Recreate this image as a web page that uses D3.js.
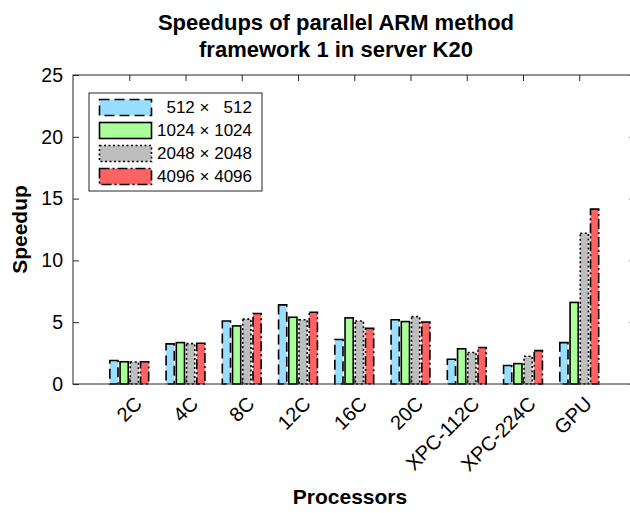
<!DOCTYPE html>
<html>
<head>
<meta charset="utf-8">
<script src="https://cdn.jsdelivr.net/npm/d3@7"></script>
<style>
  html, body { margin: 0; padding: 0; background: #fff; }
  svg { display: block; font-family: "Liberation Sans", Arial, Helvetica, sans-serif; }
</style>
</head>
<body>
<svg id="chart" width="630" height="513"></svg>
<script>
// ---- data ----
const categories = ["2C", "4C", "8C", "12C", "16C", "20C", "XPC-112C", "XPC-224C", "GPU"];
const seriesNames = ["512 \u00d7   512", "1024 \u00d7 1024", "2048 \u00d7 2048", "4096 \u00d7 4096"];
const s512  = [1.9, 3.25, 5.1, 6.4, 3.6, 5.2, 2.0, 1.5, 3.35];
const s1024 = [1.8, 3.35, 4.7, 5.4, 5.35, 5.05, 2.85, 1.65, 6.6];
const s2048 = [1.78, 3.27, 5.25, 5.2, 5.1, 5.45, 2.55, 2.25, 12.2];
const s4096 = [1.8, 3.3, 5.7, 5.8, 4.5, 5.02, 2.95, 2.7, 14.15];
const yTicks = [0, 5, 10, 15, 20, 25];
const titleLines = ["Speedups of parallel ARM method", "framework 1 in server K20"];
const xLabel = "Processors";
const yLabel = "Speedup";

// ---- styles ----
const fills = ["#99DDFF", "#AAFF99", "#BEBEBE", "#FF6262"];
const dashes = ["10,5", null, "2,2.5", "10,3,2,3"];
const series = [s512, s1024, s2048, s4096];

const svg = d3.select("#chart");
const pL = 73, pR = 635.5, pT = 75, pB = 384;

const x = d3.scaleLinear().domain([0, categories.length + 1]).range([pL, pR]);
const y = d3.scaleLinear().domain([0, 25]).range([pB, pT]);
const groupW = (x(1) - x(0)) * Math.min(0.8, series.length / (series.length + 1.5));
const inner = d3.scaleBand().domain(d3.range(series.length)).range([-groupW / 2, groupW / 2]);
const barW = inner.bandwidth() * 0.8;

const axisColor = "#262626";

// bars
series.forEach((vals, si) => {
  svg.append("g").selectAll("rect").data(vals).join("rect")
    .attr("x", (d, i) => x(i + 1) + inner(si) + (inner.bandwidth() - barW) / 2)
    .attr("y", d => y(d))
    .attr("width", barW)
    .attr("height", d => y(0) - y(d))
    .attr("fill", fills[si])
    .attr("stroke", "#000")
    .attr("stroke-width", 1.6)
    .attr("stroke-dasharray", dashes[si]);
});

// axes box
const tickLen = 6;
const axes = svg.append("g").attr("stroke", axisColor).attr("stroke-width", 1).attr("fill", "none");
axes.append("rect").attr("x", pL).attr("y", pT).attr("width", pR - pL).attr("height", pB - pT);

// left/right y ticks
const yAxisL = d3.axisLeft(y).tickValues(yTicks).tickSizeInner(-tickLen).tickSizeOuter(0).tickPadding(10);
const gyl = svg.append("g").attr("transform", `translate(${pL},0)`).call(yAxisL);
gyl.select(".domain").remove();
gyl.selectAll("line").attr("stroke", axisColor);
gyl.selectAll("text").attr("font-size", 19.5).attr("fill", "#000")
  .attr("font-family", "'Liberation Sans', Arial, Helvetica, sans-serif");

const yAxisR = d3.axisRight(y).tickValues(yTicks).tickSizeInner(-tickLen).tickSizeOuter(0).tickFormat("");
const gyr = svg.append("g").attr("transform", `translate(${pR},0)`).call(yAxisR);
gyr.select(".domain").remove();
gyr.selectAll("line").attr("stroke", axisColor);

// bottom/top x ticks
const catIdx = d3.range(1, categories.length + 1);
const xAxisB = d3.axisBottom(x).tickValues(catIdx).tickSizeInner(-tickLen).tickSizeOuter(0).tickFormat("");
const gxb = svg.append("g").attr("transform", `translate(0,${pB})`).call(xAxisB);
gxb.select(".domain").remove();
gxb.selectAll("line").attr("stroke", axisColor);

const xAxisT = d3.axisTop(x).tickValues(catIdx).tickSizeInner(-tickLen).tickSizeOuter(0).tickFormat("");
const gxt = svg.append("g").attr("transform", `translate(0,${pT})`).call(xAxisT);
gxt.select(".domain").remove();
gxt.selectAll("line").attr("stroke", axisColor);

// rotated category labels
svg.append("g").selectAll("text").data(categories).join("text")
  .attr("transform", (d, i) => `translate(${x(i + 1) + 9},${pB + 16}) rotate(-45)`)
  .attr("text-anchor", "end")
  .attr("dy", "0.35em")
  .attr("font-size", 20)
  .attr("fill", "#000")
  .text(d => d);

// title
svg.append("text")
  .attr("x", 336).attr("y", 30)
  .attr("text-anchor", "middle").attr("font-size", 22).attr("font-weight", "bold")
  .text(titleLines[0]);
svg.append("text")
  .attr("x", 336).attr("y", 57)
  .attr("text-anchor", "middle").attr("font-size", 22).attr("font-weight", "bold")
  .text(titleLines[1]);

// axis labels
svg.append("text")
  .attr("x", 350).attr("y", 504)
  .attr("text-anchor", "middle").attr("font-size", 21).attr("font-weight", "bold")
  .text(xLabel);
svg.append("text")
  .attr("transform", `translate(27,${(pT + pB) / 2}) rotate(-90)`)
  .attr("text-anchor", "middle").attr("font-size", 21).attr("font-weight", "bold")
  .text(yLabel);

// legend
const lg = svg.append("g");
lg.append("rect").attr("x", 89).attr("y", 93).attr("width", 173).attr("height", 98)
  .attr("fill", "#fff").attr("stroke", axisColor).attr("stroke-width", 1);
seriesNames.forEach((name, si) => {
  const cy = 107.5 + si * 23;
  lg.append("rect").attr("x", 99.5).attr("y", cy - 8).attr("width", 52).attr("height", 16)
    .attr("fill", fills[si]).attr("stroke", "#000").attr("stroke-width", 1.6)
    .attr("stroke-dasharray", dashes[si]);
  lg.append("text").attr("x", 252).attr("y", cy).attr("dy", "0.35em")
    .attr("text-anchor", "end").attr("font-size", 17)
    .style("white-space", "pre")
    .text(name);
});
</script>
</body>
</html>
